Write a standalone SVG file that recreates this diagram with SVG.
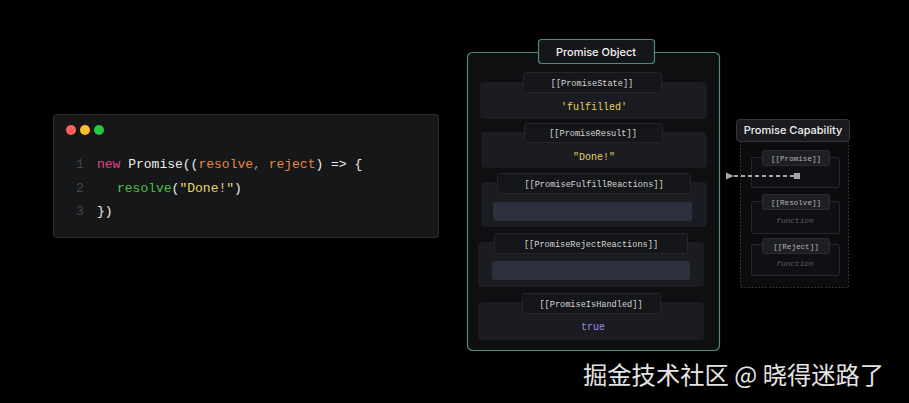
<svg xmlns="http://www.w3.org/2000/svg" width="909" height="403" viewBox="0 0 909 403">
<defs>
<style>
.mono{font-family:"Liberation Mono","DejaVu Sans Mono",monospace}
.sans{font-family:Inter,"Liberation Sans",sans-serif}
.row{fill:#1a1c21}
.tab{fill:#141619;stroke:#23252a;stroke-width:1}
.lbl{font-size:8.6px;fill:#d6d6d6;text-anchor:middle}
.bar{fill:#2d313e}
.val{font-size:10px;text-anchor:middle}
.cbox{fill:#0f1013;stroke:#26282c;stroke-width:1}
.ctab{fill:#1d1f23;stroke:#2a2c30;stroke-width:1}
.clbl{font-size:7.6px;fill:#b4b4b4;text-anchor:middle}
.fn{font-size:7.8px;fill:#5c5e62;text-anchor:middle;font-style:italic}
</style>
<marker id="ah" markerWidth="8" markerHeight="8" refX="1" refY="4" orient="auto" markerUnits="userSpaceOnUse">
<path d="M8,0.5 L0,4 L8,7.5 Z" fill="#a8a8a8"/>
</marker>
</defs>
<rect width="909" height="403" fill="#000"/>

<g id="code">
<rect x="53.5" y="114.5" width="385" height="123" rx="3" fill="#161719" stroke="#2b2d31"/>
<circle cx="71" cy="130" r="5" fill="#ff5f57"/>
<circle cx="85" cy="130" r="5" fill="#febc2e"/>
<circle cx="99" cy="130" r="5" fill="#28c840"/>
<g class="mono" font-size="13">
<text x="80" y="168" fill="#44474d" text-anchor="middle">1</text>
<text x="80" y="192" fill="#44474d" text-anchor="middle">2</text>
<text x="80" y="215" fill="#44474d" text-anchor="middle">3</text>
<text x="97" y="168" fill="#ececec"><tspan fill="#e0428a">new</tspan> Promise((<tspan fill="#e8843c">resolve</tspan><tspan fill="#9a9a9a">,</tspan> <tspan fill="#e8843c">reject</tspan>) =&gt; {</text>
<text x="117" y="192" fill="#ececec"><tspan fill="#4cc04a">resolve</tspan>(<tspan fill="#e8d66a">"Done!"</tspan>)</text>
<text x="97" y="215" fill="#ececec">})</text>
</g>
</g>

<g id="promise-object">
<rect x="467.5" y="52.5" width="252" height="298" rx="5" fill="#0d0f11" stroke="#4e8c78" stroke-width="1.2"/>
<rect x="538.5" y="39.5" width="116" height="24" rx="3" fill="#14161a" stroke="#4e8c78" stroke-width="1.2"/>
<text class="sans" x="596" y="55.5" font-size="11" font-weight="500" fill="#f2f2f2" text-anchor="middle">Promise Object</text>
</g>

<g id="promise-state">
<rect class="row" x="480" y="82" width="227" height="37" rx="4"/>
<rect class="tab" x="523.5" y="72.5" width="138" height="20" rx="2"/>
<text class="mono lbl" x="592" y="86">[[PromiseState]]</text>
<text class="mono val" x="594" y="109.5" fill="#e6d35e">'fulfilled'</text>
</g>

<g id="promise-result">
<rect class="row" x="481" y="132" width="226" height="36" rx="4"/>
<rect class="tab" x="524.5" y="123.5" width="138" height="19" rx="2"/>
<text class="mono lbl" x="593" y="136">[[PromiseResult]]</text>
<text class="mono val" x="594" y="159.5" fill="#e6d35e">"Done!"</text>
</g>

<g id="promise-fulfill-reactions">
<rect class="row" x="481" y="182" width="226" height="45" rx="4"/>
<rect class="tab" x="497.5" y="173.5" width="193" height="20" rx="2"/>
<text class="mono lbl" x="594" y="187">[[PromiseFulfillReactions]]</text>
<rect class="bar" x="493" y="202" width="199" height="19" rx="3"/>
</g>

<g id="promise-reject-reactions">
<rect class="row" x="478" y="242" width="226" height="45" rx="4"/>
<rect class="tab" x="494.5" y="233.5" width="193" height="20" rx="2"/>
<text class="mono lbl" x="591" y="246.5">[[PromiseRejectReactions]]</text>
<rect class="bar" x="492" y="261" width="198" height="19" rx="3"/>
</g>

<g id="promise-is-handled">
<rect class="row" x="478" y="302" width="226" height="38" rx="4"/>
<rect class="tab" x="522.5" y="293.5" width="138" height="20" rx="2"/>
<text class="mono lbl" x="591" y="307">[[PromiseIsHandled]]</text>
<text class="mono val" x="593" y="329.5" fill="#9a8ee0">true</text>
</g>

<g id="promise-capability">
<rect x="740.5" y="130.5" width="108" height="157" fill="#0b0c0e" stroke="#3c3e42" stroke-dasharray="1.5 2"/>
<rect x="736.5" y="119.5" width="113" height="22" rx="3" fill="#1a1b1f" stroke="#34363a"/>
<text class="sans" x="793" y="134" font-size="11" font-weight="500" fill="#f0f0f0" text-anchor="middle">Promise Capability</text>
</g>

<g id="cap-promise">
<rect class="cbox" x="751.5" y="157.5" width="88" height="30" rx="2"/>
<rect class="ctab" x="762.5" y="150.5" width="67" height="15" rx="2"/>
<text class="mono clbl" x="796" y="160.5">[[Promise]]</text>
</g>

<g id="cap-resolve">
<rect class="cbox" x="751.5" y="201.5" width="88" height="32" rx="2"/>
<rect class="ctab" x="762.5" y="194.5" width="67" height="15" rx="2"/>
<text class="mono clbl" x="796" y="204.5">[[Resolve]]</text>
<text class="mono fn" x="795" y="223">function</text>
</g>

<g id="cap-reject">
<rect class="cbox" x="751.5" y="244.5" width="88" height="31" rx="2"/>
<rect class="ctab" x="762.5" y="238.5" width="67" height="15" rx="2"/>
<text class="mono clbl" x="796" y="248.5">[[Reject]]</text>
<text class="mono fn" x="795" y="266">function</text>
</g>

<g id="connectors">
<rect x="794" y="173" width="6" height="6" fill="#a8a8a8"/>
<line x1="794" y1="176" x2="733" y2="176" stroke="#a8a8a8" stroke-width="2" stroke-dasharray="4 3" marker-end="url(#ah)"/>
</g>

<text x="583" y="384" font-family="'Noto Sans CJK SC',sans-serif" font-size="24.3" fill="#e4e4e4">掘金技术社区 @ 晓得迷路了</text>
</svg>
